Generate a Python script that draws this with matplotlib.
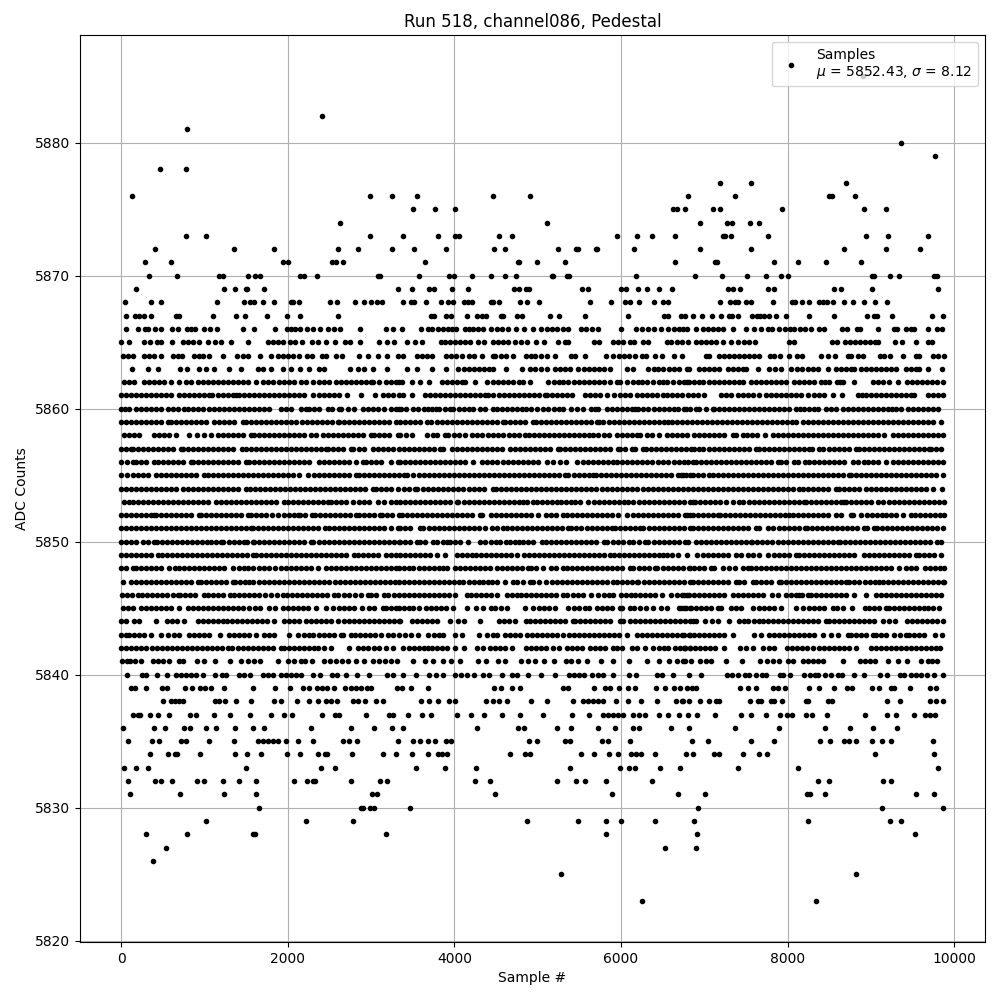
import matplotlib
matplotlib.use("Agg")
import matplotlib.pyplot as plt

#------------------------------------------------------------------------------

""" Samples per ADC level, read off the picture """

s5885 = [8904]
s5882 = [2408]
s5881 = [788]
s5880 = [9356]
s5879 = [9764]
s5878 = [464, 776]
s5877 = [7184, 7556, 8696]
s5876 = [128, 2984, 3248, 3556, 4468, 4912, 6800, 7364, 8492, 8528, 8804]
s5875 = [3508, 3772, 4012, 6628, 6676, 6764, 7100, 7184, 7928, 8912, 9176]
s5874 = [2624, 5116, 6944, 7268, 7328, 7544, 7652]
s5873 = [776, 1016, 2984, 3388, 3808, 4012, 4060, 4540, 4696, 5956, 6196, 6376, 6652, 7220, 7244, 7316, 7760, 8936, 9200, 9680]
s5872 = [404, 1352, 1832, 2600, 2840, 3248, 3520, 3904, 4480, 4612, 5248, 5464, 5488, 5704, 5716, 6160, 6944, 7556, 8672, 9176, 9584]
s5871 = [284, 596, 1948, 2000, 2528, 2580, 2660, 3652, 4768, 4780, 4996, 5332, 6652, 7124, 7148, 7832, 8120, 8456, 8876]
s5870 = [332, 668, 1172, 1220, 1520, 1604, 1664, 2144, 2192, 2348, 3080, 3108, 3580, 3940, 4000, 4216, 4444, 4612, 4744,
         5176, 5188, 5356, 5380, 6184, 6884, 7208, 7508, 7736, 7916, 8000, 9008, 9032, 9224, 9332, 9752, 9788]
s5869 = [176, 1232, 1364, 1496, 1508, 1712, 3320, 3496, 3700, 3760, 3976, 4168, 4720, 4780, 4864, 4900, 5536, 5608, 6004,
         6064, 6208, 6316, 6460, 6616, 7280, 7340, 7424, 7760, 7832, 8552, 8636, 9008, 9800]
s5868 = [44, 356, 476, 1148, 1472, 1544, 1592, 1700, 1832, 2036, 2060, 2132, 2504, 2588, 2804, 2912, 2996, 3068, 3128, 3388,
         3484, 3520, 3664, 3844, 3928, 3988, 4120, 4168, 4216, 4444, 4468, 4540, 4792, 4876, 5020, 5632, 5884, 6052, 6112,
         6220, 6400, 6508, 6568, 7184, 7304, 7364, 7400, 7496, 7556, 7820, 8048, 8084, 8168, 8252, 8372, 8420, 8468, 8540,
         8672, 8780, 8912, 9044, 9188]
s5867 = [56, 164, 212, 272, 356, 656, 692, 1100, 1376, 1484, 1748, 1988, 2144, 2600, 3724, 3760, 3904, 3964, 4156, 4276,
         4336, 4384, 4564, 4588, 4756, 4816, 5152, 5260, 5572, 6088, 6520, 6568, 6724, 6764, 6860, 6968, 7088, 7196, 7292,
         7328, 7400, 7568, 7628, 7664, 7712, 7772, 7856, 7976, 8252, 8552, 8948, 9032, 9068, 9248, 9728, 9860]
s5866 = [56, 200, 284, 320, 404, 476, 608, 680, 788, 840, 884, 992, 1064, 1148, 1460, 1592, 1844, 1988, 2036, 2084, 2144,
         2228, 2300, 2384, 2480, 2552, 2624, 2872, 3176, 3260, 3376, 3604, 3688, 3736, 3808, 3868, 3928, 3976, 4024, 4132,
         4180, 4228, 4288, 4348, 4444, 4516, 4576, 4648, 4744, 4840, 4948, 5044, 5116, 5176, 5236, 5308, 5368, 5524, 5584,
         5656, 5728, 6004, 6184, 6256, 6328, 6400, 6484, 6568, 6640, 6700, 6740, 6788, 6896, 6980, 7040, 7100, 7160, 7220,
         7340, 7500, 7592, 7676, 7760, 7808, 7892, 7964, 8024, 8072, 8144, 8204, 8276, 8372, 8432, 8648, 8708, 8828, 8864,
         9080, 9272, 9308, 9416, 9476, 9512, 9680, 9788, 9848]
s5865 = [0, 92, 272, 344, 428, 476, 608, 740, 800, 860, 932, 1040, 1124, 1196, 1316, 1520, 1760, 1820, 1880, 1940, 2024,
         2084, 2168, 2288, 2360, 2460, 2564, 2684, 2744, 2864, 3092, 3188, 3280, 3436, 3532, 3616, 3844, 3892, 3948, 4008,
         4068, 4128, 4188, 4288, 4360, 4468, 4528, 4588, 4648, 4732, 4804, 4876, 4984, 5080, 5248, 5332, 5368, 5680, 5740,
         5908, 5968, 6028, 6112, 6160, 6268, 6328, 6556, 6604, 6676, 6728, 6800, 6896, 6956, 7016, 7076, 7136, 7220, 7316,
         7400, 7472, 7532, 7604, 8012, 8072, 8528, 8588, 8684, 8744, 8804, 8864, 8924, 8984, 9044, 9084, 9284, 9368, 9536,
         9680, 9728]
s5864 = [20, 80, 140, 272, 332, 392, 480, 620, 680, 728, 872, 940, 980, 1052, 1220, 1388, 1460, 1520, 1672, 1796, 1880,
         1940, 2000, 2060, 2132, 2228, 2288, 2408, 2460, 2576, 2648, 2852, 2960, 3080, 3188, 3320, 3388, 3556, 3616, 3676,
         3736, 3904, 3964, 4024, 4096, 4180, 4240, 4336, 4468, 4492, 4564, 4624, 4708, 4864, 4924, 4972, 5044, 5116, 5212,
         5404, 5452, 5572, 5824, 5908, 5980, 6040, 6100, 6172, 6256, 6304, 6412, 6496, 6640, 6728, 7016, 7052, 7172, 7232,
         7292, 7352, 7412, 7472, 7532, 7592, 7652, 7784, 7832, 7904, 8012, 8108, 8168, 8396, 8480, 8564, 8720, 8756, 8840,
         8900, 9104, 9152, 9228, 9380, 9536, 9572, 9740, 9800, 9872]
s5863 = [128, 320, 440, 708, 788, 940, 1020, 1120, 1300, 1436, 1640, 1700, 1796, 1940, 2040, 2148, 2252, 2380, 2440, 2748,
         2840, 2920, 3020, 3188, 3428, 3548, 3728, 3896, 4048, 4110, 4170, 4230, 4290, 4350, 4410, 4468, 4620, 4808, 4908,
         4970, 5040, 5108, 5208, 5270, 5330, 5388, 5488, 5550, 5610, 5670, 5730, 5800, 5868, 6068, 6148, 6328, 6390, 6448,
         6508, 6570, 6630, 6690, 6788, 6820, 6940, 7000, 7060, 7120, 7180, 7280, 7340, 7400, 7460, 7500, 7640, 7780, 7850,
         7920, 8040, 8110, 8170, 8240, 8300, 8360, 8480, 8580, 8640, 8700, 8760, 8800, 8880, 8940, 9000, 9060, 9120, 9180,
         9240, 9300, 9420, 9480, 9540, 9580, 9680, 9848]
s5862 = [40, 100, 160, 280, 340, 400, 460, 520, 600, 700, 780, 840, 920, 980, 1040, 1100, 1160, 1220, 1280, 1340, 1400,
         1460, 1520, 1620, 1700, 1760, 1820, 1900, 1960, 2020, 2080, 2160, 2220, 2300, 2380, 2440, 2500, 2580, 2640, 2700,
         2760, 2820, 2880, 2940, 3000, 3020, 3100, 3180, 3240, 3300, 3340, 3368, 3496, 3592, 3700, 3848, 3910, 3970, 4030,
         4090, 4128, 4252, 4396, 4460, 4520, 4580, 4640, 4700, 4770, 4828, 4912, 5128, 5190, 5250, 5308, 5368, 5430, 5490,
         5550, 5610, 5670, 5730, 5800, 5868, 5948, 5988, 6076, 6140, 6200, 6248, 6308, 6388, 6450, 6500, 6548, 6628, 6690,
         6750, 6788, 6820, 6880, 6940, 6980, 7060, 7120, 7180, 7240, 7300, 7360, 7420, 7460, 7560, 7620, 7680, 7740, 7800,
         7860, 7920, 7980, 8080, 8140, 8200, 8260, 8320, 8400, 8450, 8500, 8588, 8630, 8668, 8800, 9020, 9080, 9140, 9220,
         9320, 9428, 9490, 9550, 9610, 9670, 9730, 9790, 9860]
s5861 = [0, 60, 120, 180, 240, 300, 360, 420, 480, 540, 600, 700, 760, 820, 880, 940, 1000, 1060, 1088, 1160, 1220, 1280,
         1340, 1380, 1420, 1480, 1540, 1600, 1660, 1720, 1780, 1840, 1900, 1960, 2020, 2080, 2140, 2200, 2308, 2380, 2440,
         2500, 2560, 2620, 2708, 2880, 3052, 3140, 3200, 3260, 3340, 3388, 3496, 3648, 3710, 3770, 3830, 3890, 3950, 4010,
         4070, 4130, 4190, 4250, 4310, 4370, 4408, 4468, 4530, 4590, 4650, 4710, 4770, 4830, 4890, 4950, 5010, 5088, 5108,
         5170, 5230, 5290, 5350, 5408, 5568, 5630, 5690, 5750, 5828, 5920, 5988, 6050, 6110, 6188, 6248, 6310, 6370, 6430,
         6508, 6548, 6610, 6670, 6730, 6808, 6860, 6920, 7000, 7200, 7260, 7320, 7400, 7460, 7520, 7580, 7660, 7740, 7800,
         7860, 7920, 7980, 8040, 8100, 8160, 8240, 8320, 8380, 8440, 8540, 8648, 8840, 8890, 8940, 9000, 9060, 9120, 9180,
         9240, 9300, 9360, 9420, 9480, 9520, 9680, 9740, 9800, 9860]
s5860 = [0, 50, 100, 180, 240, 300, 360, 420, 480, 560, 620, 680, 760, 800, 860, 920, 980, 1060, 1120, 1180, 1240, 1300,
         1360, 1420, 1480, 1540, 1600, 1660, 1720, 1780, 1920, 1980, 2040, 2160, 2220, 2260, 2320, 2380, 2480, 2532, 2620,
         2640, 2720, 2800, 2900, 2960, 3020, 3080, 3160, 3240, 3300, 3340, 3360, 3420, 3508, 3568, 3630, 3688, 3728, 3780,
         3820, 3888, 3948, 3988, 4050, 4110, 4170, 4228, 4308, 4370, 4460, 4508, 4570, 4630, 4690, 4750, 4808, 4860, 4920,
         4988, 5060, 5128, 5190, 5250, 5308, 5396, 5470, 5540, 5636, 5690, 5728, 5836, 5888, 5950, 6010, 6070, 6130, 6168,
         6208, 6268, 6328, 6390, 6450, 6510, 6570, 6630, 6688, 6780, 6760, 6830, 6900, 6940, 7020, 7100, 7120, 7180, 7240,
         7300, 7360, 7420, 7480, 7540, 7600, 7660, 7720, 7780, 7840, 7900, 7960, 8020, 8100, 8148, 8200, 8260, 8320, 8360,
         8460, 8520, 8580, 8660, 8720, 8780, 8840, 8900, 8960, 9020, 9080, 9140, 9200, 9250, 9300, 9360, 9440, 9500, 9560,
         9620, 9680, 9740, 9800]
s5859 = [0, 60, 120, 180, 240, 300, 360, 420, 480, 560, 600, 660, 720, 780, 840, 900, 960, 1020, 1120, 1180, 1240, 1300,
         1360, 1460, 1500, 1560, 1620, 1680, 1740, 1800, 1860, 1920, 1980, 2040, 2100, 2172, 2228, 2290, 2350, 2410, 2470,
         2530, 2600, 2620, 2680, 2740, 2800, 2860, 2920, 2980, 3040, 3100, 3160, 3220, 3300, 3348, 3410, 3470, 3530, 3590,
         3668, 3720, 3788, 3850, 3910, 3970, 4030, 4090, 4150, 4210, 4270, 4330, 4390, 4450, 4510, 4588, 4608, 4670, 4730,
         4790, 4850, 4948, 4980, 5040, 5100, 5160, 5220, 5280, 5340, 5400, 5460, 5520, 5580, 5640, 5708, 5736, 5788, 5850,
         5910, 5970, 6030, 6090, 6150, 6210, 6270, 6330, 6390, 6450, 6510, 6568, 6608, 6670, 6730, 6790, 6850, 6910, 6970,
         7030, 7090, 7150, 7210, 7270, 7330, 7390, 7450, 7510, 7570, 7630, 7690, 7750, 7810, 7870, 7930, 7990, 8050, 8100,
         8180, 8240, 8300, 8360, 8420, 8480, 8540, 8600, 8660, 8720, 8780, 8840, 8900, 8960, 9020, 9080, 9140, 9200, 9260,
         9320, 9380, 9440, 9500, 9560, 9620, 9680, 9740, 9840]
s5858 = [40, 100, 160, 220, 400, 460, 520, 580, 660, 820, 908, 1000, 1080, 1160, 1220, 1280, 1340, 1400, 1460, 1560, 1600,
         1660, 1720, 1780, 1840, 1900, 1960, 2020, 2072, 2140, 2200, 2280, 2340, 2420, 2480, 2540, 2600, 2660, 2720, 2780,
         2840, 2900, 3000, 3040, 3100, 3160, 3220, 3320, 3348, 3420, 3488, 3668, 3748, 3796, 3888, 3928, 3990, 4050, 4128,
         4208, 4270, 4330, 4400, 4460, 4528, 4588, 4650, 4710, 4780, 4848, 4900, 4960, 5020, 5080, 5140, 5200, 5260, 5320,
         5380, 5440, 5500, 5560, 5620, 5668, 5728, 5790, 5850, 5948, 6008, 6070, 6130, 6188, 6228, 6308, 6368, 6460, 6548,
         6610, 6670, 6730, 6788, 6880, 6940, 7000, 7060, 7120, 7180, 7240, 7340, 7380, 7460, 7508, 7570, 7630, 7732, 7820,
         7880, 7940, 8000, 8060, 8120, 8188, 8240, 8300, 8360, 8420, 8480, 8540, 8600, 8660, 8720, 8780, 8840, 8900, 8960,
         9020, 9080, 9160, 9260, 9320, 9380, 9440, 9500, 9560, 9620, 9680, 9740, 9800, 9860]
s5857 = [0, 60, 120, 140, 200, 260, 320, 380, 440, 500, 560, 620, 720, 740, 800, 860, 920, 980, 1040, 1100, 1160, 1220,
         1280, 1340, 1452, 1500, 1560, 1620, 1680, 1740, 1800, 1860, 1920, 1980, 2040, 2100, 2160, 2220, 2280, 2340, 2400,
         2460, 2480, 2540, 2600, 2660, 2760, 2788, 2850, 2920, 3020, 3080, 3140, 3200, 3260, 3340, 3400, 3460, 3520, 3580,
         3640, 3700, 3760, 3828, 3868, 3968, 4030, 4090, 4148, 4208, 4270, 4330, 4390, 4450, 4510, 4570, 4668, 4728, 4790,
         4850, 4910, 4970, 5030, 5090, 5150, 5248, 5268, 5330, 5390, 5450, 5510, 5570, 5630, 5690, 5750, 5810, 5870, 5968,
         5988, 6050, 6128, 6168, 6268, 6300, 6360, 6420, 6480, 6540, 6600, 6660, 6720, 6780, 6840, 6880, 6940, 6988, 7050,
         7110, 7170, 7230, 7290, 7350, 7410, 7470, 7530, 7620, 7660, 7720, 7780, 7840, 7900, 7960, 8020, 8080, 8140, 8200,
         8260, 8288, 8380, 8428, 8490, 8550, 8610, 8670, 8730, 8820, 8860, 8920, 8980, 9040, 9100, 9160, 9220, 9280, 9340,
         9400, 9460, 9520, 9580, 9640, 9700, 9720, 9780, 9840]
s5856 = [0, 70, 140, 180, 240, 300, 400, 440, 500, 560, 620, 680, 740, 840, 860, 920, 980, 1040, 1100, 1160, 1220, 1280,
         1340, 1400, 1500, 1540, 1600, 1660, 1720, 1780, 1840, 1900, 1960, 2020, 2080, 2140, 2200, 2260, 2380, 2440, 2500,
         2560, 2620, 2680, 2740, 2820, 2900, 2940, 3000, 3060, 3120, 3240, 3320, 3348, 3410, 3470, 3530, 3590, 3650, 3710,
         3770, 3830, 3890, 3950, 4010, 4070, 4130, 4228, 4328, 4390, 4448, 4516, 4580, 4640, 4700, 4760, 4820, 4880, 4940,
         5000, 5108, 5188, 5268, 5340, 5476, 5540, 5600, 5660, 5720, 5780, 5840, 5908, 5956, 6008, 6070, 6130, 6190, 6250,
         6310, 6370, 6448, 6508, 6568, 6630, 6690, 6750, 6808, 6860, 6900, 6960, 7020, 7080, 7140, 7200, 7260, 7320, 7380,
         7440, 7500, 7560, 7620, 7680, 7740, 7800, 7880, 7920, 7980, 8080, 8120, 8212, 8260, 8320, 8380, 8440, 8500, 8560,
         8620, 8680, 8780, 8840, 8912, 8960, 9020, 9080, 9180, 9260, 9320, 9380, 9440, 9500, 9560, 9620, 9680, 9740, 9800,
         9860]
s5855 = [0, 68, 140, 200, 260, 320, 420, 480, 540, 600, 660, 720, 780, 840, 900, 1000, 1040, 1100, 1160, 1220, 1280, 1340,
         1400, 1460, 1520, 1580, 1640, 1700, 1760, 1820, 1880, 1940, 2000, 2060, 2140, 2248, 2320, 2380, 2440, 2500, 2560,
         2620, 2680, 2740, 2820, 2860, 2920, 2980, 3040, 3100, 3160, 3220, 3280, 3340, 3400, 3428, 3508, 3570, 3630, 3690,
         3750, 3810, 3870, 3930, 3990, 4050, 4110, 4170, 4230, 4290, 4350, 4410, 4470, 4530, 4590, 4650, 4710, 4770, 4830,
         4890, 4950, 5010, 5070, 5130, 5190, 5250, 5328, 5368, 5430, 5490, 5550, 5610, 5668, 5700, 5760, 5820, 5880, 5940,
         6000, 6060, 6120, 6180, 6240, 6300, 6360, 6420, 6480, 6540, 6600, 6688, 6748, 6828, 6720, 6780, 6860, 6920, 6980,
         7060, 7100, 7160, 7220, 7280, 7340, 7400, 7460, 7520, 7580, 7640, 7700, 7760, 7820, 7880, 7940, 8000, 8060, 8120,
         8180, 8240, 8300, 8360, 8420, 8480, 8540, 8600, 8660, 8740, 8760, 8820, 8880, 8940, 9000, 9060, 9120, 9180, 9240,
         9300, 9360, 9420, 9480, 9540, 9600, 9660, 9720, 9780, 9860]
s5854 = [0, 60, 120, 180, 240, 300, 360, 420, 480, 540, 600, 660, 740, 800, 860, 920, 980, 1040, 1100, 1160, 1220, 1280,
         1340, 1400, 1500, 1548, 1610, 1670, 1730, 1790, 1850, 1910, 1970, 2030, 2090, 2150, 2210, 2270, 2330, 2390, 2450,
         2510, 2570, 2630, 2690, 2750, 2810, 2870, 2930, 3020, 3060, 3120, 3180, 3240, 3320, 3396, 3460, 3528, 3556, 3620,
         3680, 3740, 3800, 3860, 3920, 3980, 4040, 4108, 4180, 4240, 4300, 4360, 4460, 4500, 4560, 4620, 4680, 4740, 4800,
         4860, 4920, 4980, 5040, 5100, 5160, 5220, 5280, 5340, 5400, 5460, 5520, 5580, 5640, 5700, 5768, 5828, 5888, 5950,
         6010, 6070, 6130, 6188, 6260, 6320, 6380, 6440, 6500, 6560, 6620, 6680, 6740, 6800, 6860, 6920, 6980, 7040, 7100,
         7160, 7220, 7280, 7340, 7400, 7460, 7520, 7580, 7640, 7700, 7760, 7820, 7880, 7940, 8000, 8060, 8140, 8180, 8240,
         8300, 8360, 8420, 8480, 8580, 8620, 8680, 8740, 8800, 8860, 8940, 9000, 9060, 9120, 9180, 9240, 9300, 9360, 9420,
         9480, 9540, 9600, 9660, 9740, 9852]
s5853 = [40, 100, 140, 200, 260, 320, 380, 440, 500, 560, 620, 680, 740, 800, 860, 920, 980, 1040, 1140, 1200, 1260, 1320,
         1380, 1440, 1500, 1560, 1620, 1680, 1740, 1800, 1860, 1960, 2000, 2060, 2120, 2180, 2240, 2300, 2360, 2420, 2480,
         2520, 2580, 2640, 2700, 2780, 2860, 2920, 2980, 3080, 3160, 3240, 3300, 3348, 3410, 3470, 3530, 3590, 3650, 3710,
         3770, 3830, 3890, 3950, 4028, 4048, 4110, 4170, 4230, 4290, 4350, 4410, 4470, 4530, 4590, 4650, 4710, 4770, 4820,
         4868, 4948, 4988, 5050, 5110, 5170, 5228, 5276, 5340, 5400, 5448, 5508, 5608, 5670, 5730, 5790, 5850, 5910, 5970,
         6030, 6088, 6148, 6210, 6270, 6330, 6390, 6450, 6510, 6570, 6630, 6690, 6750, 6828, 6860, 6892, 6950, 7010, 7070,
         7130, 7190, 7260, 7340, 7420, 7468, 7530, 7590, 7650, 7710, 7770, 7830, 7890, 7950, 8010, 8070, 8130, 8200, 8220,
         8280, 8340, 8400, 8460, 8520, 8580, 8640, 8680, 8700, 8760, 8820, 8880, 8940, 9000, 9080, 9148, 9210, 9270, 9330,
         9390, 9450, 9510, 9570, 9630, 9690, 9750, 9810, 9870]
s5852 = [0, 60, 120, 180, 240, 300, 360, 400, 420, 480, 540, 600, 660, 720, 780, 840, 940, 960, 1020, 1080, 1140, 1200,
         1260, 1320, 1380, 1440, 1520, 1560, 1620, 1680, 1740, 1812, 1888, 1950, 2010, 2070, 2120, 2148, 2210, 2292, 2332,
         2390, 2450, 2510, 2570, 2630, 2690, 2750, 2820, 2852, 2910, 2970, 3030, 3108, 3132, 3190, 3250, 3340, 3368, 3430,
         3490, 3550, 3610, 3670, 3730, 3790, 3850, 3910, 3970, 4030, 4090, 4150, 4210, 4308, 4328, 4436, 4500, 4560, 4620,
         4680, 4740, 4800, 4860, 4920, 5008, 5100, 5160, 5220, 5300, 5348, 5410, 5470, 5530, 5590, 5650, 5710, 5770, 5828,
         5888, 5968, 6076, 6140, 6200, 6260, 6320, 6380, 6440, 6500, 6560, 6620, 6680, 6768, 6788, 6828, 6860, 6920, 6980,
         7040, 7100, 7160, 7188, 7250, 7310, 7370, 7430, 7490, 7550, 7610, 7670, 7730, 7790, 7850, 7910, 7970, 8020, 8060,
         8120, 8180, 8240, 8300, 8360, 8420, 8480, 8580, 8640, 8760, 8780, 8880, 8948, 9012, 9070, 9132, 9180, 9240, 9300,
         9380, 9480, 9532, 9590, 9650, 9710, 9770, 9830, 9870]
s5851 = [0, 60, 120, 180, 240, 300, 360, 420, 480, 540, 600, 660, 720, 780, 840, 900, 960, 1020, 1080, 1140, 1200, 1260,
         1320, 1380, 1440, 1500, 1560, 1580, 1640, 1700, 1760, 1820, 1880, 1940, 2000, 2060, 2120, 2180, 2240, 2300, 2360,
         2452, 2492, 2550, 2610, 2670, 2730, 2790, 2850, 2910, 2970, 3030, 3090, 3150, 3240, 3320, 3348, 3410, 3470, 3588,
         3628, 3690, 3750, 3810, 3870, 3930, 3990, 4050, 4110, 4170, 4230, 4290, 4368, 4448, 4510, 4588, 4628, 4690, 4750,
         4810, 4870, 4930, 4990, 5050, 5110, 5170, 5230, 5290, 5368, 5396, 5460, 5520, 5588, 5648, 5710, 5770, 5830, 5888,
         5928, 5990, 6050, 6110, 6170, 6228, 6268, 6330, 6390, 6450, 6510, 6570, 6630, 6690, 6750, 6828, 6860, 6920, 6980,
         7040, 7100, 7160, 7220, 7280, 7340, 7400, 7460, 7520, 7620, 7660, 7760, 7828, 7890, 7950, 8010, 8070, 8130, 8212,
         8228, 8290, 8350, 8410, 8470, 8530, 8590, 8650, 8710, 8770, 8830, 8920, 8948, 9040, 9068, 9130, 9190, 9250, 9310,
         9370, 9430, 9490, 9550, 9610, 9670, 9730, 9790, 9860]
s5850 = [0, 60, 120, 180, 260, 320, 400, 428, 490, 550, 610, 670, 730, 790, 850, 910, 970, 1028, 1080, 1140, 1200, 1228,
         1290, 1350, 1410, 1480, 1508, 1580, 1600, 1660, 1720, 1780, 1840, 1900, 1960, 2020, 2080, 2140, 2200, 2280, 2308,
         2370, 2430, 2490, 2550, 2610, 2670, 2730, 2790, 2850, 2910, 2970, 3030, 3090, 3150, 3210, 3270, 3340, 3348, 3410,
         3470, 3556, 3588, 3650, 3748, 3796, 3860, 3916, 3948, 4010, 4070, 4168, 4308, 4370, 4436, 4496, 4548, 4620, 4668,
         4730, 4780, 4820, 4880, 4940, 5048, 5100, 5160, 5220, 5280, 5340, 5400, 5460, 5520, 5580, 5640, 5700, 5796, 5836,
         5900, 5960, 6020, 6100, 6148, 6210, 6288, 6328, 6390, 6450, 6510, 6570, 6630, 6690, 6772, 6800, 6900, 6960, 7020,
         7080, 7140, 7200, 7260, 7320, 7380, 7440, 7500, 7560, 7572, 7630, 7690, 7750, 7810, 7880, 7940, 8000, 8060, 8120,
         8180, 8240, 8300, 8360, 8420, 8480, 8540, 8600, 8628, 8690, 8750, 8810, 8870, 8930, 8990, 9050, 9110, 9170, 9230,
         9290, 9350, 9410, 9470, 9530, 9590, 9650, 9710, 9790, 9840]
s5849 = [0, 60, 120, 180, 240, 300, 360, 440, 492, 550, 610, 670, 730, 790, 850, 910, 970, 1030, 1090, 1150, 1210, 1270,
         1330, 1390, 1450, 1510, 1580, 1620, 1680, 1740, 1800, 1860, 1920, 1980, 2040, 2100, 2160, 2220, 2280, 2340, 2400,
         2460, 2520, 2580, 2640, 2700, 2800, 2840, 2900, 2960, 3020, 3080, 3180, 3240, 3300, 3348, 3410, 3470, 3530, 3590,
         3650, 3708, 3788, 3888, 4028, 4088, 4150, 4208, 4260, 4320, 4380, 4440, 4500, 4560, 4620, 4680, 4748, 4836, 4900,
         4960, 5020, 5080, 5140, 5200, 5260, 5320, 5380, 5440, 5500, 5560, 5620, 5680, 5740, 5800, 5868, 5916, 5980, 6040,
         6100, 6160, 6220, 6280, 6340, 6400, 6460, 6508, 6548, 6610, 6688, 6788, 6908, 6980, 7040, 7100, 7160, 7220, 7280,
         7380, 7440, 7520, 7588, 7660, 7760, 7840, 7900, 7960, 8020, 8100, 8140, 8200, 8260, 8320, 8380, 8440, 8500, 8560,
         8620, 8680, 8740, 8800, 8920, 8980, 9040, 9100, 9160, 9220, 9280, 9340, 9400, 9460, 9540, 9572, 9630, 9690, 9760,
         9840]
s5848 = [0, 60, 140, 180, 240, 300, 360, 420, 480, 580, 648, 700, 760, 820, 880, 940, 1000, 1060, 1120, 1180, 1240, 1348,
         1412, 1470, 1520, 1580, 1660, 1720, 1780, 1852, 1920, 1980, 2040, 2100, 2160, 2220, 2280, 2360, 2460, 2520, 2580,
         2640, 2700, 2760, 2820, 2880, 2940, 3000, 3060, 3120, 3180, 3240, 3300, 3340, 3400, 3460, 3508, 3570, 3630, 3690,
         3750, 3810, 3868, 3908, 4008, 4068, 4130, 4190, 4250, 4310, 4370, 4430, 4508, 4568, 4630, 4690, 4750, 4810, 4888,
         4916, 4980, 5060, 5156, 5220, 5308, 5348, 5410, 5470, 5530, 5590, 5650, 5710, 5770, 5830, 5890, 5950, 6010, 6108,
         6148, 6210, 6270, 6330, 6408, 6436, 6500, 6560, 6620, 6680, 6748, 6828, 6820, 6880, 6940, 7000, 7080, 7120, 7220,
         7300, 7372, 7460, 7520, 7560, 7620, 7680, 7740, 7800, 7860, 7920, 7980, 8040, 8100, 8160, 8220, 8280, 8340, 8400,
         8460, 8520, 8580, 8640, 8700, 8760, 8820, 8880, 8940, 9000, 9060, 9120, 9180, 9240, 9340, 9420, 9480, 9540, 9652,
         9710, 9770, 9830, 9870]
s5847 = [20, 120, 180, 240, 300, 360, 420, 480, 540, 600, 660, 720, 780, 840, 920, 960, 1020, 1080, 1140, 1200, 1260, 1340,
         1372, 1430, 1490, 1540, 1588, 1650, 1710, 1770, 1830, 1890, 1950, 2010, 2070, 2130, 2190, 2250, 2310, 2370, 2430,
         2500, 2572, 2630, 2690, 2750, 2810, 2870, 2930, 2990, 3050, 3110, 3170, 3230, 3290, 3340, 3400, 3460, 3520, 3580,
         3640, 3700, 3760, 3820, 3880, 3940, 4000, 4060, 4108, 4170, 4230, 4300, 4340, 4400, 4450, 4508, 4608, 4708, 4756,
         4820, 4908, 4948, 5010, 5100, 5168, 5230, 5290, 5350, 5410, 5470, 5530, 5590, 5650, 5710, 5770, 5830, 5908, 5948,
         6008, 6068, 6130, 6188, 6208, 6270, 6330, 6390, 6450, 6510, 6570, 6630, 6690, 6750, 6828, 6860, 6920, 6980, 7040,
         7100, 7160, 7220, 7280, 7380, 7420, 7480, 7580, 7620, 7680, 7740, 7800, 7900, 7920, 7980, 8040, 8100, 8160, 8220,
         8280, 8340, 8400, 8460, 8520, 8580, 8640, 8700, 8740, 8800, 8860, 8928, 8990, 9050, 9100, 9140, 9200, 9260, 9320,
         9380, 9440, 9500, 9560, 9620, 9680, 9740, 9800, 9860, 9876]
s5846 = [12, 70, 130, 200, 252, 310, 370, 430, 490, 550, 620, 680, 708, 770, 830, 890, 1000, 1040, 1100, 1160, 1220, 1308,
         1360, 1420, 1480, 1540, 1600, 1660, 1732, 1800, 1870, 1940, 1988, 2050, 2110, 2170, 2230, 2290, 2350, 2410, 2470,
         2560, 2600, 2670, 2740, 2808, 2880, 2960, 3000, 3060, 3160, 3200, 3270, 3340, 3400, 3460, 3520, 3580, 3640, 3700,
         3760, 3820, 3880, 3940, 4008, 4148, 4196, 4260, 4320, 4380, 4440, 4516, 4628, 4690, 4748, 4796, 4860, 4920, 4980,
         5040, 5100, 5160, 5220, 5308, 5356, 5420, 5480, 5548, 5636, 5728, 5790, 5850, 5908, 6000, 6060, 6120, 6172, 6232,
         6290, 6350, 6408, 6496, 6596, 6676, 6730, 6788, 6760, 6820, 6880, 6940, 7000, 7060, 7120, 7180, 7240, 7340, 7400,
         7460, 7520, 7580, 7640, 7700, 7812, 7888, 7980, 8040, 8100, 8140, 8172, 8240, 8280, 8340, 8400, 8460, 8520, 8580,
         8640, 8700, 8800, 8940, 9060, 9120, 9180, 9240, 9300, 9360, 9420, 9480, 9540, 9600, 9660, 9720, 9780, 9840]
s5845 = [20, 80, 140, 240, 300, 360, 420, 480, 540, 600, 700, 800, 860, 920, 980, 1040, 1100, 1160, 1220, 1280, 1340, 1400,
         1460, 1532, 1612, 1668, 1772, 1852, 1940, 2000, 2060, 2120, 2180, 2240, 2340, 2460, 2540, 2620, 2680, 2740, 2800,
         2888, 2980, 3040, 3140, 3180, 3240, 3300, 3340, 3400, 3450, 3508, 3580, 3660, 3720, 3780, 3840, 3900, 3980, 4148,
         4260, 4348, 4436, 4488, 4560, 4628, 4848, 4948, 5020, 5080, 5140, 5208, 5368, 5430, 5490, 5568, 5620, 5708, 5770,
         5830, 5890, 5988, 6008, 6108, 6160, 6228, 6300, 6388, 6476, 6556, 6692, 6750, 6828, 6720, 6780, 6840, 6900, 6960,
         7020, 7080, 7160, 7200, 7320, 7380, 7440, 7588, 7650, 7710, 7770, 7830, 7920, 8100, 8180, 8260, 8320, 8380, 8440,
         8540, 8588, 8660, 8768, 8924, 8980, 9040, 9100, 9180, 9220, 9280, 9340, 9400, 9460, 9520, 9580, 9640, 9680, 9740,
         9820]
s5844 = [0, 60, 160, 220, 420, 548, 610, 670, 760, 920, 980, 1040, 1100, 1160, 1220, 1268, 1330, 1390, 1450, 1510, 1570,
         1630, 1690, 1750, 1840, 1960, 2020, 2080, 2132, 2220, 2280, 2340, 2400, 2460, 2520, 2600, 2680, 2740, 2800, 2860,
         2920, 2980, 3040, 3100, 3160, 3220, 3280, 3340, 3348, 3488, 3548, 3610, 3670, 3730, 3788, 3948, 4048, 4116, 4308,
         4540, 4600, 4660, 4728, 4860, 4908, 4970, 5030, 5090, 5150, 5210, 5270, 5330, 5428, 5448, 5510, 5570, 5628, 5688,
         5750, 5810, 5870, 5988, 6028, 6108, 6168, 6230, 6290, 6350, 6410, 6470, 6530, 6590, 6650, 6710, 6770, 6828, 6860,
         6900, 7012, 7090, 7160, 7300, 7412, 7480, 7520, 7590, 7660, 7700, 7760, 7820, 7880, 7940, 8000, 8060, 8120, 8180,
         8240, 8300, 8360, 8460, 8500, 8560, 8620, 8680, 8740, 8800, 8860, 8920, 8980, 9040, 9140, 9212, 9292, 9432, 9490,
         9550, 9610, 9670, 9730, 9790, 9860]
s5843 = [0, 60, 100, 160, 220, 280, 360, 480, 560, 640, 700, 812, 870, 930, 990, 1060, 1192, 1300, 1360, 1420, 1480, 1540,
         1620, 1720, 1780, 1840, 2012, 2120, 2190, 2260, 2308, 2370, 2430, 2490, 2550, 2640, 2660, 2760, 2812, 2870, 2930,
         2990, 3050, 3120, 3200, 3260, 3340, 3410, 3480, 3568, 3688, 3750, 3810, 3868, 4008, 4088, 4300, 4388, 4468, 4516,
         4608, 4670, 4728, 4788, 4868, 4928, 4990, 5050, 5108, 5168, 5236, 5308, 5370, 5430, 5490, 5550, 5610, 5670, 5730,
         5790, 5850, 5910, 5970, 6068, 6188, 6250, 6310, 6370, 6430, 6490, 6550, 6610, 6670, 6730, 6828, 6760, 6820, 6880,
         6940, 7000, 7060, 7120, 7180, 7240, 7340, 7600, 7680, 7780, 7840, 7900, 7960, 8020, 8080, 8140, 8200, 8260, 8320,
         8420, 8520, 8600, 8720, 8760, 8820, 8880, 8940, 9020, 9060, 9120, 9180, 9280, 9348, 9420, 9460, 9520, 9580, 9640,
         9772, 9850]
s5842 = [0, 60, 120, 180, 240, 300, 372, 430, 490, 550, 610, 670, 730, 790, 850, 910, 970, 1030, 1090, 1150, 1210, 1280,
         1328, 1400, 1460, 1520, 1580, 1640, 1700, 1760, 1820, 1920, 1960, 2020, 2080, 2140, 2200, 2260, 2320, 2360, 2430,
         2520, 2740, 2840, 2900, 2960, 3040, 3100, 3180, 3260, 3388, 3450, 3510, 3570, 3630, 3688, 3728, 3790, 3850, 3910,
         4008, 4120, 4268, 4348, 4428, 4488, 4548, 4610, 4688, 4860, 4920, 4980, 5040, 5100, 5188, 5260, 5348, 5410, 5470,
         5530, 5628, 5688, 5750, 5810, 5908, 5948, 6008, 6128, 6190, 6288, 6388, 6450, 6510, 6568, 6648, 6710, 6770, 6828,
         6760, 6772, 6830, 6890, 6950, 7010, 7070, 7130, 7240, 7428, 7500, 7588, 7700, 7770, 7840, 7988, 8050, 8110, 8170,
         8230, 8300, 8372, 8430, 8490, 8550, 8610, 8670, 8730, 8820, 9000, 9060, 9120, 9180, 9240, 9300, 9360, 9420, 9480,
         9540, 9600, 9660, 9720, 9780, 9830]
s5841 = [8, 68, 104, 164, 236, 380, 440, 500, 572, 692, 740, 908, 992, 1124, 1304, 1436, 1520, 1592, 1664, 1880, 2000, 2072,
         2156, 2204, 2288, 2432, 2504, 2576, 2648, 2720, 2816, 2912, 3020, 3092, 3164, 3236, 3308, 3508, 3652, 3748, 3868,
         3964, 4072, 4288, 4384, 4528, 4612, 4804, 4888, 4972, 5080, 5200, 5344, 5404, 5488, 5596, 5764, 5908, 6100, 6316,
         6460, 6580, 6676, 6740, 6764, 6836, 6944, 7016, 7076, 7256, 7448, 7664, 7748, 7820, 7892, 8000, 8060, 8180, 8240,
         8300, 8360, 8420, 8660, 8864, 8924, 8984, 9044, 9200, 9320, 9428, 9596, 9680, 9728, 9788]
s5840 = [68, 248, 296, 428, 548, 656, 716, 776, 836, 896, 980, 1124, 1208, 1256, 1412, 1472, 1544, 1700, 1760, 1820, 1916,
         1976, 2036, 2096, 2156, 2300, 2384, 2528, 2588, 2696, 2832, 2972, 3188, 3260, 3388, 3544, 3700, 3784, 3868, 4012,
         4084, 4156, 4240, 4348, 4420, 4576, 4696, 4756, 4888, 5044, 5212, 5380, 5440, 5500, 5560, 5656, 5728, 5788, 5908,
         6100, 6184, 6436, 6496, 6628, 6812, 6956, 7268, 7328, 7400, 7484, 7532, 7616, 7688, 7736, 7904, 7940, 8024, 8192,
         8264, 8324, 8360, 8444, 8516, 8600, 8648, 8792, 8912, 9104, 9188, 9344, 9392, 9476, 9536, 9596, 9668, 9752, 9860]
s5839 = [116, 164, 296, 488, 548, 764, 848, 944, 1004, 1076, 1232, 1580, 1844, 2024, 2180, 2252, 2348, 2408, 2468, 2552,
         2684, 2756, 2816, 2876, 2948, 2996, 3308, 3376, 3484, 3688, 4480, 4564, 4696, 4792, 5308, 5368, 5680, 5808, 5872,
         5980, 6088, 6172, 6424, 6532, 6640, 6712, 6788, 6848, 6896, 7424, 7520, 7616, 7820, 7880, 7964, 8252, 8372, 8552,
         8708, 8768, 9008, 9092, 9236, 9272, 9472, 9704, 9776]
s5838 = [500, 596, 644, 692, 740, 1124, 1172, 1244, 1376, 1556, 1832, 1916, 2108, 2252, 2360, 2456, 2516, 2588, 2780, 2840,
         2924, 3056, 3140, 3604, 3700, 3808, 3940, 4012, 4384, 4460, 4536, 4636, 4924, 5116, 5428, 5548, 5608, 5668, 5728,
         5788, 5944, 6088, 6240, 6436, 6664, 6728, 6748, 6812, 6944, 7052, 7136, 7172, 7544, 7640, 7676, 7796, 7832, 7928,
         8216, 8240, 8480, 8528, 9188, 9344, 9704, 9776, 9860]
s5837 = [140, 200, 228, 344, 440, 572, 824, 896, 1112, 1304, 1544, 1796, 1952, 2048, 2408, 2564, 2612, 2940, 3212, 3260,
         3448, 3616, 3724, 4036, 4204, 4360, 4576, 4792, 5068, 5416, 5620, 5788, 5848, 5908, 5968, 6028, 6148, 6220, 6292,
         6460, 6568, 6700, 6800, 6908, 7124, 7436, 7556, 7736, 7904, 7988, 8048, 8216, 8288, 8468, 8924, 9188, 9296, 9512,
         9644, 9704, 9764]
s5836 = [20, 392, 524, 752, 824, 1016, 1136, 1364, 1580, 1712, 2276, 2756, 3032, 3248, 3388, 4276, 4768, 4840, 5236, 5404,
         5728, 5932, 6148, 6220, 6604, 6812, 7364, 7892, 8444, 8744, 9020, 9308]
s5835 = [80, 368, 452, 716, 776, 1052, 1352, 1640, 1700, 1760, 1820, 1880, 1976, 2120, 2300, 2660, 2732, 2828, 3320, 3508,
         3592, 3688, 3772, 3904, 3964, 4900, 4996, 5332, 5392, 5776, 5848, 6112, 6848, 7040, 7556, 7832, 8384, 8504, 8672,
         8732, 8816, 9008, 9128, 9236, 9740]
s5834 = [344, 560, 644, 668, 944, 1364, 1508, 1676, 1988, 2144, 2360, 2444, 2468, 2768, 3140, 3296, 3496, 3688, 3808, 3856,
         3916, 4672, 4852, 4912, 5524, 5680, 5860, 5968, 6124, 6184, 6244, 6412, 6776, 6860, 7112, 7172, 7460, 7652, 7748,
         9044, 9752]
s5833 = [32, 176, 320, 1496, 2396, 2564, 3544, 3892, 4264, 5392, 5992, 6100, 6172, 6472, 6712, 7400, 8120, 9800]
s5832 = [80, 404, 476, 608, 908, 992, 1220, 1412, 1616, 2072, 2228, 2300, 2324, 2756, 3104, 3188, 4252, 4432, 5236, 5464,
         5572, 5824, 6376, 8360, 8492, 9140, 9236]
s5831 = [104, 704, 1232, 1616, 3008, 3068, 4492, 5896, 6688, 7004, 8228, 8264, 8444, 9536, 9752]
s5830 = [1652, 2876, 2900, 2984, 3032, 3472, 6920, 9128, 9860]
s5829 = [1016, 2216, 2780, 4876, 5488, 5824, 6004, 6412, 6872, 8240, 9224, 9356]
s5828 = [296, 788, 1580, 1604, 3176, 5824, 6908, 9524]
s5827 = [536, 6532, 6896]
s5826 = [380]
s5825 = [5284, 8816]
s5823 = [6256, 8336]

levels = [5885, 5882, 5881, 5880, 5879, 5878, 5877, 5876, 5875, 5874, 5873, 5872, 5871, 5870, 5869, 5868, 5867, 5866,
          5865, 5864, 5863, 5862, 5861, 5860, 5859, 5858, 5857, 5856, 5855, 5854, 5853, 5852, 5851, 5850, 5849, 5848,
          5847, 5846, 5845, 5844, 5843, 5842, 5841, 5840, 5839, 5838, 5837, 5836, 5835, 5834, 5833, 5832, 5831, 5830,
          5829, 5828, 5827, 5826, 5825, 5823]
samples = [s5885, s5882, s5881, s5880, s5879, s5878, s5877, s5876, s5875, s5874, s5873, s5872, s5871, s5870, s5869, s5868,
           s5867, s5866, s5865, s5864, s5863, s5862, s5861, s5860, s5859, s5858, s5857, s5856, s5855, s5854, s5853, s5852,
           s5851, s5850, s5849, s5848, s5847, s5846, s5845, s5844, s5843, s5842, s5841, s5840, s5839, s5838, s5837, s5836,
           s5835, s5834, s5833, s5832, s5831, s5830, s5829, s5828, s5827, s5826, s5825, s5823]

#------------------------------------------------------------------------------

x = []
y = []
for level, s in zip(levels, samples):
    x += s
    y += [level] * len(s)

fig = plt.figure(figsize=(10, 10))
plt.plot(x, y, "k.", label="Samples\n$\\mu$ = 5852.43, $\\sigma$ = 8.12")
plt.xlim(-492, 10368)
plt.ylim(5819.9, 5888.1)
plt.title("Run 518, channel086, Pedestal")
plt.xlabel("Sample #")
plt.ylabel("ADC Counts")
plt.grid(True)
plt.legend(loc="upper right")
plt.subplots_adjust(left=0.08, right=0.985, bottom=0.058, top=0.965)
plt.savefig("out.png", dpi=100)
